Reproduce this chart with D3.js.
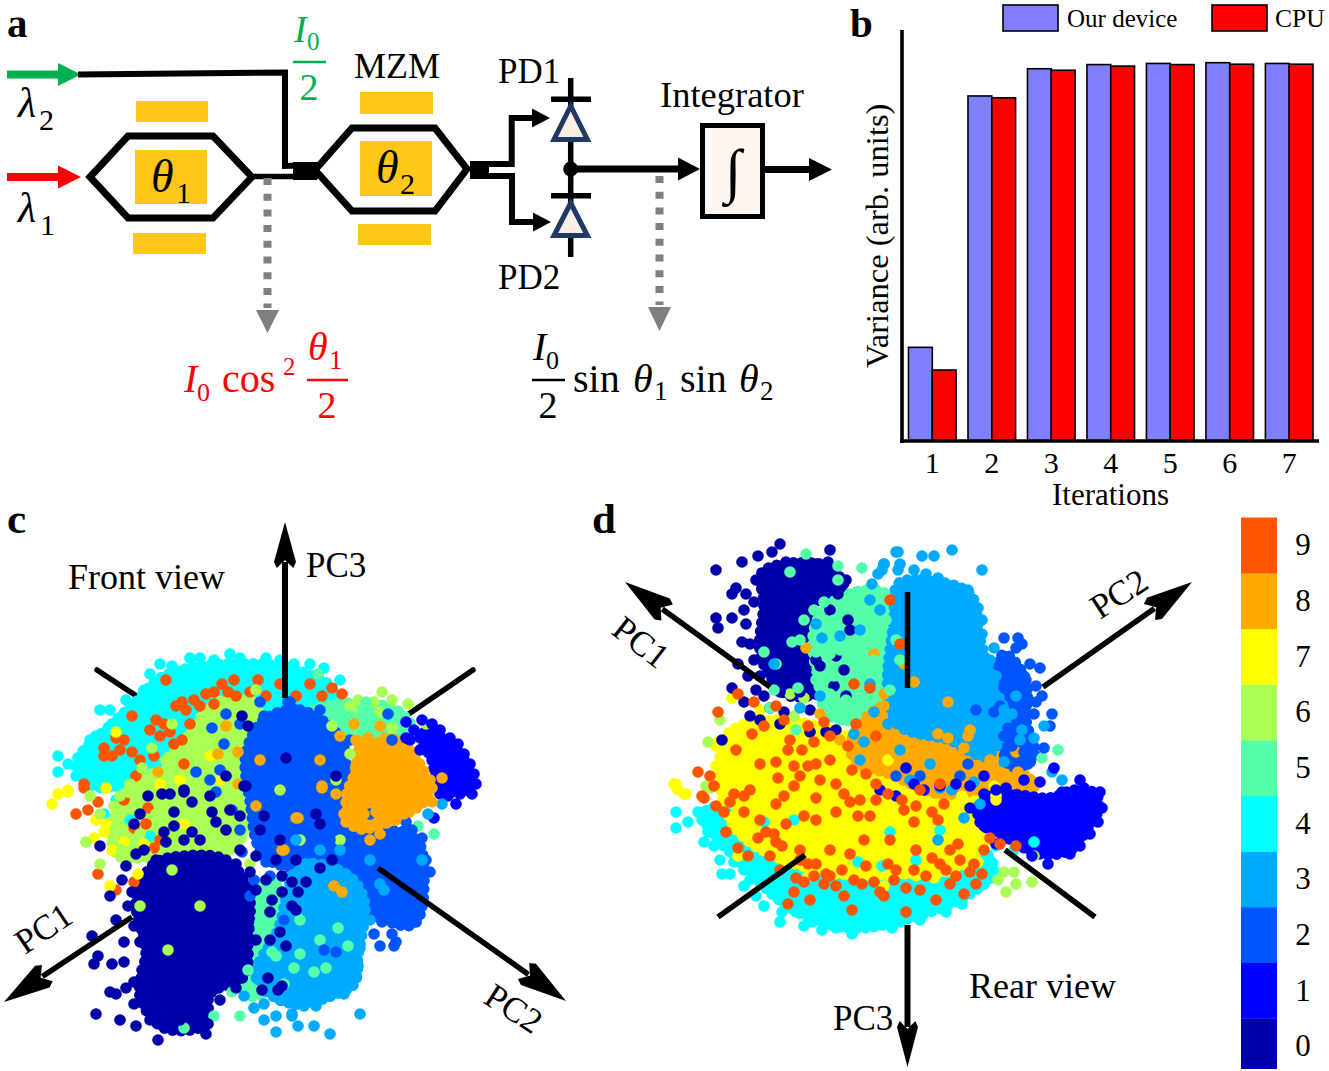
<!DOCTYPE html>
<html><head><meta charset="utf-8"><script src="https://cdn.jsdelivr.net/npm/d3@7/dist/d3.min.js"></script>
<style>html,body{margin:0;padding:0;background:#fff}svg{display:block}text{font-family:"Liberation Serif",serif;fill:#000}</style></head><body>
<svg id="fig" width="1329" height="1071" viewBox="0 0 1329 1071"></svg>
<script>
// ---------- Panel b data
const iterations=[1,2,3,4,5,6,7];
const seriesNames=["Our device","CPU"];
const deviceVariance=[.247,.912,.984,.995,.998,1,.998];
const cpuVariance=[.187,.907,.98,.991,.995,.996,.996];
// ---------- Colour key
const digits=[0,1,2,3,4,5,6,7,8,9];
const jet=["#0000aa","#0000ff","#0055ff","#00aaff","#00ffff","#55ffaa","#aaff55","#ffff00","#ffaa00","#ff5500"];
// ---------- Panel c (front view): outline of each class's solid dense zone, then individual samples
const c4Dense=[[18,62],[36,42],[47,32],[62,18],[95,12],[128,15],[147,26],[130,50],[80,68],[45,72],[27,73]];
const c6Dense=[[87,32],[108,32],[105,60],[98,103],[65,107],[38,107],[40,80],[57,66],[75,47]];
const c5Dense=[[100,127],[118,122],[123,168],[105,178],[97,165]];
const c5DenseTop=[[132,38],[150,32],[178,35],[187,47],[160,47],[132,47]];
const c1Dense=[[190,47],[200,48],[210,57],[216,70],[214,75],[200,75],[196,60]];
const c8Dense=[[160,52],[178,50],[192,66],[194,78],[183,87],[158,94],[153,80],[158,65]];
const c2Dense=[[112,40],[130,35],[150,49],[153,65],[150,93],[187,98],[192,120],[187,142],[170,139],[140,118],[112,108],[105,80],[103,57]];
const c3Dense=[[130,113],[153,117],[162,130],[159,158],[157,172],[148,177],[130,182],[118,179],[108,168],[119,145]];
const c0Dense=[[72,108],[93,110],[104,125],[104,150],[102,168],[85,177],[83,192],[62,194],[50,178],[53,155],[48,130],[57,112]];
const c4=[[60,12],[66,13],[75,9],[80,9],[87,10],[95,7],[100,9],[113,9],[120,10],[127,12],[135,12],[142,14],[150,20],[55,17],[52,25],[43,30],[30,35],[35,35],[36,42],[25,50],[28,48],[9,58],[14,62],[9,66],[20,64],[18,68],[25,68],[30,72],[35,65],[32,87],[55,98],[37,73],[28,71],[42,44],[50,52],[40,62],[33,60],[48,62],[58,62],[38,80],[45,90]];
const c9=[[63,20],[87,26],[91,22],[97,20],[109,20],[68,33],[73,35],[80,33],[87,32],[98,28],[113,28],[46,38],[55,45],[62,42],[60,48],[75,42],[71,50],[67,52],[38,49],[32,54],[40,55],[46,56],[57,58],[32,58],[48,68],[22,72],[72,62],[128,28],[141,28],[151,27],[22,74],[29,81],[18,87],[24,85],[54,84],[47,94],[53,92],[29,117],[38,125],[47,121],[57,104],[120,22],[105,26],[77,30],[58,40],[36,58],[42,50],[135,22],[146,24],[42,80],[60,100],[71,31],[83,27],[94,26],[65,46],[50,60]];
const c7=[[38,46],[33,74],[14,75],[14,76],[9,77],[6,82],[33,74],[28,90],[33,92],[32,96],[36,105],[27,99],[42,101],[49,117],[35,123],[52,102],[70,70],[85,58],[60,72],[90,70],[72,92]];
const c6=[[66,42],[56,54],[51,64],[63,60],[80,46],[93,33],[103,33],[108,25],[171,26],[176,30],[184,32],[193,42],[176,44],[159,30],[155,33],[167,31],[170,36],[146,43],[156,36],[25,78],[30,87],[37,83],[23,101],[41,105],[41,108],[30,112],[53,107],[44,76],[58,87],[38,95],[50,133],[66,115],[80,133],[64,155],[45,72],[52,78],[40,88],[40,78],[50,97],[70,100],[155,57],[148,70],[150,100],[105,112],[130,100],[120,75]];
const c5=[[72,194],[100,188],[87,188],[107,175],[118,158],[127,164],[110,141],[116,156],[130,157],[137,166],[143,164],[154,153],[149,144],[197,97],[189,93],[146,34],[139,17],[163,31],[168,46],[155,38],[96,176],[104,165],[122,172],[115,128],[122,140],[130,140],[140,150]];
const c3=[[160,187],[129,193],[137,193],[145,197],[126,187],[128,182],[132,183],[138,183],[144,178],[152,177],[158,168],[159,163],[160,154],[170,122],[191,110],[201,82],[194,87],[118,188],[112,190],[118,196],[126,188],[128,182],[112,182],[107,184],[102,178],[120,180],[130,180],[165,140],[155,165],[112,170],[150,105],[140,105],[165,110],[172,125],[128,100],[135,112]];
const c2=[[124,31],[174,37],[176,50],[110,31],[125,31],[86,44],[93,37],[78,66],[191,99],[195,116],[186,115],[187,121],[190,125],[186,129],[188,138],[183,141],[171,141],[176,147],[178,151],[177,153],[170,153],[167,147],[142,155],[148,156],[193,110],[186,95],[183,91],[113,111],[96,85],[88,76],[101,106],[107,120],[100,42],[112,38],[140,35],[155,50],[92,52],[178,140],[182,125],[176,105],[190,108],[165,87],[145,100],[115,118],[125,112],[100,95],[90,65],[85,70],[105,128],[115,100],[122,140]];
const c8=[[158,50],[164,49],[170,43],[157,42],[150,48],[201,69],[196,74],[158,63],[141,73],[148,77],[152,87],[153,91],[162,87],[168,86],[172,89],[178,90],[182,87],[192,81],[196,81],[176,83],[129,89],[122,105],[147,123],[151,126],[170,97],[141,74],[99,72],[108,83],[121,105],[128,89],[93,43],[99,56],[89,57],[59,66],[195,70],[190,72],[165,100],[110,60],[140,60]];
const c1=[[191,40],[196,42],[200,45],[205,49],[209,52],[212,57],[215,62],[217,67],[218,72],[216,77],[210,77],[208,82],[204,78],[200,77],[187,45],[185,50],[200,75],[183,41],[183,49],[197,89],[195,48],[190,55]];
const c0=[[28,187],[40,190],[48,193],[59,200],[83,197],[35,176],[38,177],[27,162],[29,158],[36,162],[42,161],[42,151],[26,148],[38,140],[44,133],[35,128],[41,120],[43,113],[48,107],[30,103],[47,92],[50,87],[54,78],[61,77],[65,77],[72,76],[76,81],[67,86],[85,78],[62,96],[63,101],[67,93],[76,96],[47,171],[43,174],[47,182],[52,178],[55,190],[70,190],[84,192],[90,180],[98,174],[46,126],[51,145],[47,143],[50,151],[51,165],[55,185],[60,191],[78,185],[108,150],[115,136],[120,146],[111,175],[114,169],[119,175],[95,85],[100,88],[93,95],[102,73],[105,116],[113,120],[121,118],[126,133],[116,130],[88,91],[86,86],[140,114],[146,110],[129,126],[128,135],[138,87],[123,153],[121,173],[133,121],[126,121],[121,126],[140,92],[93,68],[101,38],[104,43],[123,59],[103,73],[72,75],[148,68],[52,105],[58,110],[72,100],[80,100],[100,105],[110,95],[108,108],[118,110],[98,112],[120,100],[112,88],[128,110],[108,125],[115,150]];
// ---------- Panel d (rear view)
const rear4Dense=[[22,137],[44,165],[67,185],[95,194],[125,189],[153,178],[167,165],[150,145],[95,130],[50,130]];
const rear7Dense=[[34,97],[60,90],[100,100],[150,118],[168,138],[150,163],[120,167],[90,167],[55,157],[37,143],[30,120]];
const rear0Dense=[[57,13],[83,13],[92,24],[77,32],[75,55],[85,73],[65,78],[55,68],[50,55],[52,30],[50,18]];
const rear5Dense=[[85,32],[108,25],[117,32],[120,78],[110,88],[85,88],[79,70],[77,45]];
const rear8Dense=[[97,97],[115,82],[170,107],[187,124],[165,124],[140,127],[115,117],[97,110]];
const rear2Dense=[[172,57],[183,70],[183,90],[187,109],[175,113],[170,90],[167,70]];
const rear3Dense=[[119,22],[130,20],[155,27],[160,50],[168,75],[173,90],[163,108],[145,100],[120,93],[114,75],[117,40]];
const rear1Dense=[[160,132],[170,127],[195,129],[207,125],[218,127],[219,135],[214,144],[205,155],[190,157],[172,148],[160,141]];
const rear4=[[8,136],[14,141],[8,144],[19,136],[21,140],[24,146],[22,151],[27,153],[31,167],[35,167],[42,165],[42,173],[52,183],[61,186],[60,191],[68,186],[72,193],[81,195],[96,197],[101,193],[116,194],[120,191],[130,190],[143,186],[151,182],[160,173],[165,168],[37,161],[32,147],[33,136],[45,170],[76,191],[88,194],[108,191],[115,186],[52,141],[67,140],[115,146],[128,160],[111,163],[99,161],[168,153],[177,155],[187,151],[140,145],[48,178],[30,160]];
const rear7=[[36,79],[50,85],[54,92],[41,95],[37,97],[28,103],[29,101],[7,122],[9,125],[13,127],[33,108],[28,113],[31,121],[70,98],[77,103],[93,112],[114,110],[100,120],[65,110],[114,110],[167,123],[151,128],[125,128],[168,128],[12,127],[8,122],[38,142],[47,150],[37,138],[39,158],[68,155],[93,165],[112,173],[137,169],[74,168],[145,137],[151,129],[159,161],[168,130],[155,153],[62,160],[52,130],[88,147],[115,160],[128,168],[45,100],[58,100],[35,120],[42,118],[60,100],[85,105]];
const rear6=[[169,170],[173,176],[178,172],[186,171],[172,166],[177,166],[187,158],[23,123],[30,90],[24,101],[67,88],[72,79],[65,77],[25,124]];
const rear0=[[60,2],[85,5],[84,11],[49,8],[56,6],[41,11],[28,15],[63,11],[70,12],[78,12],[48,20],[53,25],[38,24],[36,27],[43,27],[47,31],[28,39],[36,39],[29,44],[43,42],[41,51],[52,45],[47,60],[39,62],[44,68],[36,74],[48,75],[42,81],[45,88],[62,86],[75,85],[31,100],[93,20],[89,27],[85,23],[82,17],[55,66],[63,63],[73,65],[80,63],[78,60],[60,76],[52,78],[87,73],[93,78],[75,96],[83,96],[88,95],[94,40],[95,45],[45,52],[42,35],[50,68],[70,76],[55,84],[50,90],[60,92],[92,65],[85,35],[88,58]];
const rear8=[[144,99],[152,104],[145,111],[137,117],[143,118],[132,103],[127,107],[115,100],[111,98],[120,110],[127,71],[144,81],[155,95],[154,98],[187,121],[178,106],[139,97],[179,116],[110,103],[112,83],[112,77],[80,87],[118,107],[107,57],[73,54],[165,110],[130,110],[122,62],[105,90],[100,98],[90,100]];
const rear5=[[65,16],[73,7],[89,13],[101,14],[89,20],[108,26],[77,35],[82,31],[78,43],[87,40],[92,33],[98,26],[66,51],[52,56],[58,62],[78,56],[85,57],[78,70],[87,68],[57,75],[69,74],[55,84],[68,95],[91,90],[98,88],[93,80],[107,60],[102,65],[85,77],[113,40],[199,105],[191,109],[85,45],[90,55],[72,40],[120,60],[118,50],[115,75],[70,50]];
const rear2=[[172,49],[179,49],[178,54],[181,52],[173,62],[185,62],[190,64],[181,67],[173,69],[188,73],[191,78],[188,81],[180,75],[172,74],[182,81],[187,87],[196,87],[195,93],[170,83],[167,86],[181,88],[172,98],[176,103],[182,106],[192,104],[184,112],[174,94],[154,112],[158,85],[130,118],[118,118],[150,118]];
const rear3=[[119,6],[131,8],[137,8],[146,5],[161,15],[112,12],[119,15],[127,15],[133,17],[139,19],[128,20],[146,24],[154,25],[150,26],[159,34],[161,40],[161,47],[167,54],[165,60],[168,68],[167,76],[178,78],[176,87],[192,93],[187,99],[181,95],[172,111],[160,104],[196,116],[201,120],[157,121],[140,124],[146,125],[120,105],[118,6],[112,12],[109,17],[106,22],[111,15],[78,42],[81,49],[90,48],[57,62],[70,84],[80,78],[97,97],[102,101],[107,86],[114,92],[100,110],[160,132],[152,139],[139,150],[105,30],[100,45],[105,72],[135,112],[125,120],[180,100],[172,85],[120,12],[110,35]];
const rear1=[[220,126],[212,124],[201,126],[194,130],[221,134],[219,141],[215,147],[210,153],[205,157],[194,162],[186,158],[168,152],[162,143],[162,138],[155,134],[168,125],[173,124],[182,120],[210,120],[190,121],[197,114],[127,122],[123,114],[162,118],[155,123],[132,125],[140,123],[148,122],[162,127],[110,125],[118,128]];
const rear9=[[115,30],[120,52],[97,72],[105,74],[39,77],[47,81],[29,86],[58,83],[62,90],[52,93],[82,91],[74,93],[98,92],[108,98],[85,98],[46,97],[65,100],[77,101],[64,105],[71,105],[58,111],[85,110],[74,113],[78,112],[70,118],[59,119],[19,116],[25,118],[27,123],[21,128],[37,127],[94,103],[103,117],[108,122],[96,115],[22,129],[32,136],[42,136],[33,146],[39,154],[53,146],[58,151],[55,158],[63,142],[70,155],[74,162],[68,169],[67,176],[64,182],[72,171],[82,172],[83,167],[88,173],[97,170],[96,185],[123,186],[107,171],[117,170],[123,174],[138,180],[152,177],[161,167],[155,166],[143,165],[136,159],[127,165],[114,162],[95,157],[105,138],[114,127],[136,136],[142,132],[149,152],[145,155],[95,131],[88,136],[78,129],[67,123],[127,141],[165,149],[170,152],[178,153],[108,130],[130,125],[140,122],[45,125],[50,140],[62,128],[78,140],[85,155],[102,150],[115,150],[128,155],[60,165],[78,162],[92,178],[103,163],[130,175],[145,172],[112,178],[75,180],[50,112],[38,105],[88,122],[100,130],[122,135],[150,160],[158,172],[57,147],[61,153],[49,149],[44,158],[70,160],[77,168],[85,168],[91,165],[101,172],[110,176],[118,165],[133,168],[140,162],[148,168],[157,162],[162,155],[35,131],[42,128],[28,133],[67,113],[80,120],[92,127],[99,138],[121,130],[128,133],[139,140],[58,132],[72,138]];

const svg=d3.select("#fig");
function txt(s,x,y,size,opts={}){
  const t=svg.append("text").attr("x",x).attr("y",y).attr("font-size",size).text(s);
  if(opts.italic)t.attr("font-style","italic");
  if(opts.bold)t.attr("font-weight","bold");
  if(opts.fill)t.style("fill",opts.fill);
  if(opts.anchor)t.attr("text-anchor",opts.anchor);
  if(opts.rot!==undefined)t.attr("transform",`rotate(${opts.rot} ${x} ${y})`);
  return t;
}
function line(pts,color,w,extra={}){
  const p=svg.append("path").attr("d",d3.line()(pts)).attr("fill","none").attr("stroke",color).attr("stroke-width",w);
  for(const k in extra)p.attr(k,extra[k]);return p;
}
function hex(pts,w){svg.append("path").attr("d",d3.line()(pts)+"Z").attr("fill","none").attr("stroke","#000").attr("stroke-width",w).attr("stroke-miterlimit",8);}
function poly(pts,fill){svg.append("path").attr("d",d3.line()(pts)+"Z").attr("fill",fill);}
function rect(x,y,w,h,fill){svg.append("rect").attr("x",x).attr("y",y).attr("width",w).attr("height",h).attr("fill",fill);}
function headRight(xBase,xTip,y,hw,fill){poly([[xBase,y-hw],[xTip,y],[xBase,y+hw]],fill);}
function kite(tx,ty,bx,by,hw){
  const dx=tx-bx,dy=ty-by,l=Math.hypot(dx,dy),ux=dx/l,uy=dy/l,nx=-uy,ny=ux;
  poly([[tx,ty],[bx+nx*hw,by+ny*hw],[bx-ux*6+nx*hw*.75,by-uy*6+ny*hw*.75],[bx+ux*2,by+uy*2],[bx-ux*6-nx*hw*.75,by-uy*6-ny*hw*.75],[bx-nx*hw,by-ny*hw]],"#000");
}
function arrowAxis(fx,fy,tx,ty,w,hlen,hw){
  const l=Math.hypot(tx-fx,ty-fy),bx=tx-(tx-fx)/l*hlen,by=ty-(ty-fy)/l*hlen;
  line([[fx,fy],[bx,by]],"#000",w);kite(tx,ty,bx,by,hw);
}

// ---------- Panel a
const gold="#ffc719",green="#00b050",red="#ff0000",grey="#7f7f7f",navy="#1f3864";
txt("a",7,36.7,41,{bold:true});
[[136,101,72,21],[135,150,72,54],[133,233,73,21],[360,92,73,22],[360,141,72,55],[358,224,73,21]].forEach(r=>rect(...r,gold));
line([[7,74.5],[60,74.5]],green,8);headRight(58,81,74.5,11.5,green);
line([[7,177],[60,177]],red,8);headRight(58,81,177,11.5,red);
line([[78,74.5],[285,72.5],[285,166],[318,165]],"#000",6);
line([[252,176.5],[318,176.5]],"#000",5.5);
rect(293,162,24,18,"#000");
hex([[90,177],[128,136],[213,136],[252,177],[213,218],[128,218]],7);
hex([[315,170],[352,128],[435,128],[467,169],[435,211],[352,211]],7);
txt("MZM",354,78,36);
txt("θ",151,192,46,{italic:true});txt("1",176,203,30);
txt("θ",376,183,46,{italic:true});txt("2",400,194,30);
txt("λ",18,117,42,{italic:true});txt("2",39,130,30);
txt("λ",18,222,42,{italic:true});txt("1",40,235,30);
txt("I",294,42,38,{italic:true,fill:green});txt("0",307,50,25,{fill:green});
line([[293,62],[326,62]],green,2.5);txt("2",309,100,38,{fill:green,anchor:"middle"});
line([[267.5,178],[267.5,308]],grey,8,{"stroke-dasharray":"7 8.7"});poly([[256,310],[279,310],[267.5,333]],grey);
txt("I",184,392,40,{italic:true,fill:red});txt("0",197,401,26,{fill:red});
txt("cos",222,392,40,{fill:red});txt("2",283,375,25,{fill:red});
txt("θ",308,360,40,{italic:true,fill:red});txt("1",329,369,27,{fill:red});
line([[307,380],[348,380]],red,2.5);txt("2",327,418,38,{fill:red,anchor:"middle"});
rect(470,161,19,18,"#000");
line([[470,164],[511.7,164],[511.7,118],[535,118]],"#000",6);headRight(532,550,118,9.5,"#000");
line([[470,176],[512,176],[512,222],[535,222]],"#000",6);headRight(533,551,222,9.5,"#000");
rect(489,168,22,4,"#fff");
line([[570.7,78],[570.7,257]],"#000",5.5);
line([[551,99.3],[591,99.3]],"#000",5.5);line([[551,195.7],[591,195.7]],"#000",5.5);
const triFill="#fbeee4";
[[106,139.5],[203,235.5]].forEach(([a,b])=>{
  svg.append("path").attr("d",d3.line()([[570.7,a],[554,b],[587.4,b]])+"Z").attr("fill",triFill).attr("stroke",navy).attr("stroke-width",5);
});
svg.append("circle").attr("cx",570.7).attr("cy",169).attr("r",7.5).attr("fill","#000");
line([[570,169],[680,169]],"#000",7);headRight(678,700,169,11.5,"#000");
svg.append("rect").attr("x",702.5).attr("y",125.5).attr("width",60).attr("height",91).attr("fill","#fdf6f1").attr("stroke","#000").attr("stroke-width",5);
txt("∫",733,191,60,{anchor:"middle",italic:true});
line([[765,169.5],[811,169.5]],"#000",7);headRight(809,832,169.5,11.5,"#000");
txt("PD1",498,83,35);txt("PD2",498,289,35);txt("Integrator",660,107,36.5);
line([[659.5,176],[659.5,305]],grey,8,{"stroke-dasharray":"7 8.7"});poly([[648,307],[671,307],[659.5,331]],grey);
txt("I",533,360,40,{italic:true});txt("0",546,369,26);
line([[532,380],[565,380]],"#000",2.5);txt("2",548,418,38,{anchor:"middle"});
txt("sin",573,392,40);txt("θ",633,392,40,{italic:true});txt("1",654,400,27);
txt("sin",680,392,40);txt("θ",739,392,40,{italic:true});txt("2",760,400,27);

// ---------- Panel b
txt("b",850,36.7,41,{bold:true});
const xB=d3.scaleBand().domain(iterations).range([908.5,1313]).paddingInner(.2);
const xS=d3.scaleBand().domain(seriesNames).range([0,xB.bandwidth()]);
const yB=d3.scaleLinear().domain([0,1]).range([440.7,62.7]);
const barCol=d3.scaleOrdinal(seriesNames,["#8080ff","#ff0000"]);
[deviceVariance,cpuVariance].forEach((vals,si)=>{
  svg.append("g").selectAll("rect").data(vals).join("rect")
    .attr("x",(d,i)=>xB(iterations[i])+xS(seriesNames[si]))
    .attr("y",d=>yB(d)).attr("width",xS.bandwidth()).attr("height",d=>yB(0)-yB(d))
    .attr("fill",barCol(seriesNames[si])).attr("stroke","#000").attr("stroke-width",1.6);
});
line([[902,30],[902,443]],"#000",3.6);line([[900,441],[1319,441]],"#000",3.6);
iterations.forEach(v=>txt(v,xB(v)+xB.bandwidth()/2,473,30,{anchor:"middle"}));
txt("Iterations",1110.5,505,31,{anchor:"middle"});
txt("Variance (arb. units)",888,368,32.5,{rot:-90});
[[1003,"#8080ff"],[1212,"#ff0000"]].forEach(([x,c])=>{
  svg.append("rect").attr("x",x).attr("y",5).attr("width",55).attr("height",26).attr("fill",c).attr("stroke","#000").attr("stroke-width",1.6);
});
txt("Our device",1067,27,25);txt("CPU",1275,27,25.5);

// ---------- Scatter helpers
const R=5.8;
function scatter(xs,ys,zones,pts){
  const g=svg.append("g");
  const outline=d3.line().x(d=>xs(d[0])).y(d=>ys(d[1])).curve(d3.curveCatmullRomClosed);
  zones.forEach(([dg,arr])=>g.append("path").attr("d",outline(arr)).attr("fill",jet[dg])
    .attr("stroke",jet[dg]).attr("stroke-width",R*2).attr("stroke-linecap","round").attr("stroke-dasharray","0 8.5"));
  pts.forEach(([dg,arr])=>g.append("g").selectAll("circle").data(arr).join("circle")
    .attr("cx",d=>xs(d[0])).attr("cy",d=>ys(d[1])).attr("r",R).attr("fill",jet[dg]));
}
// ---------- Panel c
txt("c",7,533,43,{bold:true});
line([[97,670],[135,695]],"#000",5.5,{"stroke-linecap":"round"});
line([[473,670],[397,722]],"#000",5.5,{"stroke-linecap":"round"});
const xC=d3.scaleLinear().domain([0,220]).range([40,480]);
const yC=d3.scaleLinear().domain([0,205]).range([640,1050]);
scatter(xC,yC,
 [[4,c4Dense],[6,c6Dense],[5,c5Dense],[5,c5DenseTop],[1,c1Dense],[2,c2Dense],[8,c8Dense],[3,c3Dense],[0,c0Dense]],
 [[4,c4],[9,c9],[7,c7],[6,c6],[5,c5],[1,c1],[2,c2],[3,c3],[8,c8],[0,c0]]);
arrowAxis(285,698,285,522,6,40,11);
arrowAxis(132,917,4,1002,5.5,46,13);
arrowAxis(378,868,566,1001,5.5,46,13);
txt("Front view",68,589,36);txt("PC3",306,577,35);
txt("PC1",25,955,35,{rot:-34});txt("PC2",482,1002,35,{rot:33});

// ---------- Panel d
txt("d",592,533,43,{bold:true});
const xD=d3.scaleLinear().domain([0,225]).range([660,1110]);
const yD=d3.scaleLinear().domain([0,203]).range([540,946]);
scatter(xD,yD,
 [[4,rear4Dense],[7,rear7Dense],[0,rear0Dense],[5,rear5Dense],[8,rear8Dense],[2,rear2Dense],[3,rear3Dense],[1,rear1Dense]],
 [[4,rear4],[7,rear7],[6,rear6],[0,rear0],[8,rear8],[5,rear5],[2,rear2],[3,rear3],[1,rear1],[9,rear9]]);
line([[718,917],[805,855]],"#000",5.5);
line([[1095,917],[1005,850]],"#000",5.5);
arrowAxis(907.5,925,907.5,1067,6,40,10.5);
arrowAxis(770,687,625,582,5.5,46,13);
arrowAxis(1043,687,1192,582,5.5,46,13);
line([[907.5,592],[907.5,688]],"#000",5.5);
txt("Rear view",969,998,36);txt("PC3",833,1030,35);
txt("PC1",610,633,35,{rot:38});txt("PC2",1100,620,35,{rot:-33});

// ---------- Colour key
const yKey=d3.scaleBand().domain(digits.slice().reverse()).range([517.5,1074]);
svg.append("g").selectAll("rect").data(digits).join("rect")
  .attr("x",1241).attr("width",36).attr("y",d=>yKey(d)).attr("height",d=>Math.min(yKey.bandwidth()+.3,1069-yKey(d))).attr("fill",d=>jet[d]);
digits.forEach(d=>txt(d,1303,yKey(d)+yKey.bandwidth()/2+10,31,{anchor:"middle"}));
</script></body></html>
